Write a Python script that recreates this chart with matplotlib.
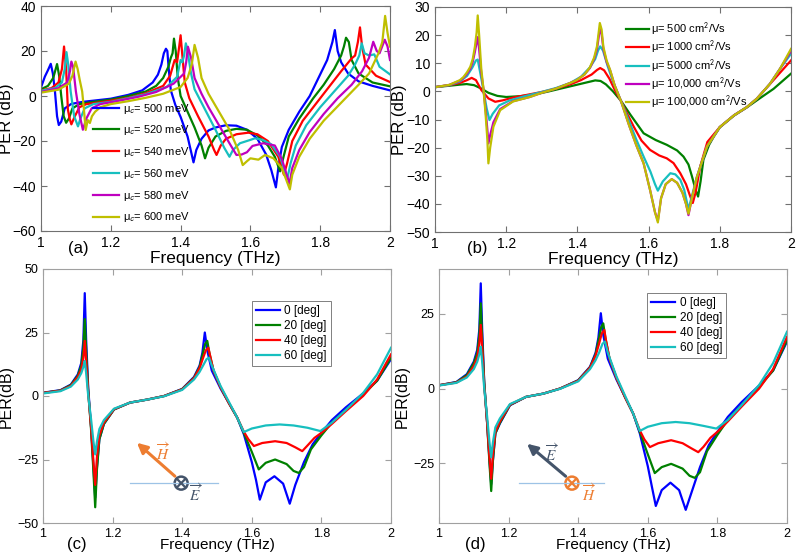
import matplotlib
matplotlib.use("Agg")
import matplotlib.pyplot as plt
from matplotlib.ticker import FormatStrFormatter
from matplotlib.patches import Circle
from matplotlib.transforms import IdentityTransform

plt.rcParams['font.family'] = ['Liberation Sans', 'DejaVu Sans']
plt.rcParams['mathtext.fontset'] = 'stix'

# ---------------- panel (a): chemical potential ----------------
a_f_500 = [1.00, 1.011, 1.02, 1.028, 1.034, 1.040, 1.046, 1.051, 1.058, 1.068, 1.087, 1.12, 1.20, 1.25, 1.29, 1.32, 1.335, 1.345,
           1.352, 1.358, 1.362, 1.366, 1.372, 1.385, 1.40, 1.42, 1.437, 1.445, 1.46, 1.48, 1.50, 1.53, 1.56, 1.59, 1.62,
           1.645, 1.66, 1.673, 1.68, 1.69, 1.71, 1.74, 1.77, 1.80, 1.82, 1.835, 1.842, 1.85, 1.86, 1.88, 1.91, 1.95, 2.00]
a_v_500 = [3.8, 8.6, 11.5, 14.3, 10, 2, -9, -12.9, -11.4, -5.5, -3.5, -2.6, -1.2, 0.5, 2.5, 6, 9.5, 14,
           19, 21, 20, 12, 2.5, -4, -9.3, -18, -29.5, -24, -19, -15.3, -14, -13, -13.2, -15, -19,
           -26, -33, -40.6, -32, -22.7, -15, -7, 0, 9.6, 16, 24, 29.3, 20, 15, 10, 6.5, 4.5, 2.5]

a_f_520 = [1.00, 1.02, 1.035, 1.046, 1.052, 1.058, 1.065, 1.072, 1.08, 1.09, 1.11, 1.15, 1.20, 1.25, 1.30, 1.33, 1.35, 1.365,
           1.372, 1.377, 1.381, 1.386, 1.392, 1.40, 1.42, 1.44, 1.46, 1.47, 1.48, 1.50, 1.53, 1.56, 1.59, 1.62, 1.65, 1.67,
           1.685, 1.695, 1.71, 1.74, 1.78, 1.81, 1.84, 1.86, 1.868, 1.874, 1.882, 1.89, 1.91, 1.95, 2.00]
a_v_520 = [3.0, 4.5, 8, 14.2, 9, 0, -9, -11.9, -10, -5.5, -3.6, -2.6, -1.6, 0, 2, 4.5, 8, 13,
           17, 19, 25.5, 20, 8, 0, -7, -14, -22, -27.7, -23, -18, -15.5, -14.6, -15, -17.5, -22, -27,
           -33.5, -27, -18, -10, -1, 5, 12, 18, 22, 25.9, 24, 16, 10, 6, 4.3]

a_f_540 = [1.00, 1.03, 1.05, 1.06, 1.066, 1.072, 1.077, 1.082, 1.087, 1.097, 1.11, 1.13, 1.18, 1.25, 1.30, 1.35, 1.37, 1.383,
           1.39, 1.396, 1.40, 1.405, 1.412, 1.425, 1.45, 1.48, 1.496, 1.503, 1.515, 1.53, 1.56, 1.594, 1.62, 1.65, 1.68,
           1.696, 1.705, 1.72, 1.75, 1.79, 1.83, 1.86, 1.89, 1.90, 1.908, 1.914, 1.92, 1.93, 1.96, 2.00]
a_v_540 = [2.5, 3.5, 6, 12, 22, 12, -6, -10, -12.6, -9, -5, -3.6, -2.6, -0.8, 1.2, 4.5, 9, 16,
           15, 22, 27, 18, 6, -1, -9, -18, -24, -26.2, -22, -19, -17, -16.3, -17, -20, -27,
           -35, -30, -20, -11, -3, 5, 11, 16.7, 18, 24, 30.5, 22, 14, 9, 6.2]

a_f_560 = [1.00, 1.04, 1.06, 1.068, 1.073, 1.078, 1.085, 1.095, 1.106, 1.113, 1.125, 1.15, 1.20, 1.25, 1.30, 1.36, 1.39, 1.40,
           1.405, 1.41, 1.415, 1.42, 1.43, 1.44, 1.47, 1.50, 1.525, 1.54, 1.55, 1.57, 1.60, 1.613, 1.635, 1.66, 1.685,
           1.706, 1.715, 1.73, 1.76, 1.80, 1.84, 1.88, 1.90, 1.912, 1.919, 1.927, 1.94, 1.955, 1.97, 2.00]
a_v_560 = [2.3, 3.5, 6, 12, 19.5, 14, 2, -9, -13.5, -10, -5.5, -3.6, -2.6, -1, 0.8, 4, 8.5, 16,
           15, 18, 23.4, 20, 10, 3, -6, -15, -23, -27, -24, -21, -19.5, -18.8, -19.5, -21.5, -27,
           -36.6, -30, -22, -13, -5, 2, 9, 14, 18, 23.4, 19, 18, 18.5, 13, 9.6]

a_f_580 = [1.00, 1.05, 1.075, 1.083, 1.087, 1.092, 1.10, 1.11, 1.12, 1.13, 1.145, 1.17, 1.22, 1.28, 1.33, 1.38, 1.41, 1.416,
           1.421, 1.43, 1.44, 1.46, 1.48, 1.51, 1.54, 1.56, 1.575, 1.59, 1.606, 1.637, 1.67, 1.69, 1.712, 1.72, 1.74,
           1.77, 1.81, 1.85, 1.89, 1.92, 1.94, 1.952, 1.962, 1.97, 1.985, 1.993, 2.00]
a_v_580 = [1.8, 3.5, 6, 11, 15.3, 13, 2, -8, -15, -10, -5.5, -3.6, -2.2, -0.3, 1.8, 5.5, 10, 15,
           21.9, 17, 8, 1, -5, -13, -21, -26.2, -26, -25, -22.2, -21, -22, -28, -39, -32, -24,
           -16, -8, -1, 5, 11, 17, 24.1, 20, 19, 25, 22, 16]

a_f_600 = [1.00, 1.05, 1.08, 1.09, 1.099, 1.105, 1.111, 1.118, 1.123, 1.128, 1.134, 1.14, 1.146, 1.155, 1.17, 1.20, 1.25, 1.30,
           1.35, 1.40, 1.42, 1.432, 1.44, 1.45, 1.46, 1.48, 1.51, 1.54, 1.565, 1.578, 1.59, 1.60, 1.623, 1.642, 1.666,
           1.69, 1.713, 1.72, 1.74, 1.77, 1.81, 1.86, 1.91, 1.94, 1.967, 1.978, 1.986, 1.993, 2.00]
a_v_600 = [1.5, 2.8, 5.5, 9, 15.3, 12, 7.1, 2, -6, -15.1, -10.7, -12, -9, -7, -5, -3.6, -2.3, -0.8,
           1, 4, 8, 14, 22.7, 17, 8, 1, -7, -15, -24, -30.7, -29, -27.7, -28.3, -26.2, -27.7,
           -32, -41.5, -35, -27, -19, -11, -3, 5, 10, 19, 24, 35.6, 28, 22]

# ---------------- panel (b): mobility ----------------
b_f_500 = [1.00, 1.04, 1.07, 1.089, 1.11, 1.13, 1.15, 1.175, 1.20, 1.24, 1.28, 1.32, 1.36, 1.40, 1.43, 1.45, 1.465, 1.48,
           1.50, 1.522, 1.55, 1.586, 1.62, 1.651, 1.68, 1.698, 1.712, 1.722, 1.732, 1.739, 1.746, 1.754, 1.77, 1.783,
           1.80, 1.84, 1.876, 1.904, 1.951, 2.00]
b_v_500 = [1.5, 2.0, 2.4, 2.6, 2.2, 1.0, -0.5, -1.6, -2.0, -1.7, -1.1, 0.0, 1.2, 2.4, 3.3, 3.9, 3.7, 2.5,
           0.0, -3.3, -8.5, -14.9, -17.3, -19.0, -21.0, -23.2, -26.0, -30.3, -35.0, -37.4, -32.0, -24.3, -19.0, -16.1,
           -12.8, -8.6, -5.7, -3.2, 0.9, 6.3]

b_f_1000 = [1.00, 1.04, 1.07, 1.09, 1.103, 1.115, 1.13, 1.15, 1.169, 1.19, 1.22, 1.26, 1.30, 1.34, 1.38, 1.41, 1.44, 1.455,
            1.464, 1.475, 1.49, 1.505, 1.522, 1.54, 1.558, 1.58, 1.604, 1.63, 1.651, 1.67, 1.689, 1.705, 1.716, 1.724,
            1.732, 1.745, 1.765, 1.80, 1.84, 1.876, 1.904, 1.95, 2.00]
b_v_1000 = [1.5, 2.2, 3.0, 4.0, 4.8, 4.0, 0.5, -2.5, -3.7, -3.2, -2.2, -1.2, -0.2, 1.0, 2.5, 4.0, 6.0, 7.6,
            8.3, 7.5, 4.5, 0.5, -3.3, -8.0, -12.5, -17.5, -20.8, -22.8, -23.8, -25.5, -29.1, -33.0, -37.0, -39.7,
            -36.0, -26.7, -18.0, -12.7, -8.5, -5.6, -2.6, 3.9, 11.0]

b_f_5000 = [1.00, 1.04, 1.07, 1.09, 1.105, 1.115, 1.12, 1.128, 1.136, 1.145, 1.153, 1.162, 1.18, 1.21, 1.25, 1.30, 1.34,
            1.38, 1.41, 1.435, 1.45, 1.458, 1.464, 1.472, 1.485, 1.50, 1.522, 1.545, 1.565, 1.586, 1.605, 1.618, 1.626,
            1.64, 1.661, 1.675, 1.689, 1.70, 1.712, 1.72, 1.736, 1.764, 1.80, 1.84, 1.876, 1.904, 1.941, 1.969, 2.00]
b_v_5000 = [1.5, 2.2, 3.5, 5.5, 8.5, 11.0, 11.3, 6.0, 0.5, -6.0, -10.2, -8.0, -5.0, -3.2, -1.8, -0.2, 1.2,
            3.0, 5.2, 8.5, 11.5, 14.5, 16.0, 14.5, 9.0, 3.5, -3.3, -10.5, -17.0, -23.2, -28.5, -33.0, -35.3,
            -32.0, -29.1, -29.5, -31.4, -35.0, -42.0, -38.0, -30.3, -19.6, -12.7, -8.5, -5.6, -2.6, 2.7, 8.0, 13.4]

b_f_hi = [1.00, 1.04, 1.07, 1.08, 1.09, 1.099, 1.106, 1.112, 1.117, 1.12, 1.124, 1.13, 1.136, 1.142, 1.147, 1.15, 1.155,
          1.164, 1.183, 1.219, 1.266, 1.30, 1.34, 1.38, 1.398, 1.42, 1.435, 1.447, 1.455, 1.463, 1.468, 1.473, 1.482,
          1.492, 1.505, 1.522, 1.545, 1.565, 1.586, 1.604, 1.618, 1.626, 1.635, 1.648, 1.665, 1.68, 1.695, 1.705,
          1.712, 1.72, 1.736, 1.764, 1.80, 1.84, 1.876, 1.904, 1.941, 1.969, 2.00]
b_v_10000 = [1.5, 2.3, 3.8, 4.8, 6.3, 8.0, 10.5, 14.0, 17.5, 19.3, 15.0, 6.5, 1.0, -6.5, -13.5, -18.5, -15.5,
             -11.0, -6.3, -3.5, -2.0, -0.5, 1.0, 3.0, 4.0, 6.0, 8.3, 11.5, 15.0, 22.1, 20.5, 15.0, 10.5,
             7.4, 2.0, -3.3, -12.0, -19.0, -25.6, -35.0, -43.0, -46.0, -38.0, -33.0, -31.2, -32.5, -36.0, -40.0,
             -44.0, -39.0, -30.3, -19.6, -12.7, -8.5, -5.6, -2.6, 2.7, 8.0, 14.4]
b_v_100000 = [1.5, 2.3, 4.0, 5.1, 6.8, 8.7, 11.5, 15.8, 21.0, 27.0, 20.0, 8.0, 1.0, -8.0, -17.0, -25.6, -20.0,
              -12.6, -6.7, -3.6, -2.0, -0.5, 1.0, 3.0, 4.0, 6.0, 8.5, 12.0, 16.0, 24.3, 22.0, 15.8, 11.0,
              7.6, 2.0, -3.3, -12.0, -19.0, -25.6, -35.0, -43.0, -46.6, -38.0, -33.0, -31.2, -32.5, -36.0, -40.0,
              -43.5, -39.0, -30.3, -19.6, -12.7, -8.5, -5.6, -2.6, 2.7, 8.0, 15.1]

# ---------------- panels (c), (d): incidence angle ----------------
cd_f_0 = [1.00, 1.05, 1.08, 1.10, 1.11, 1.116, 1.12, 1.124, 1.13, 1.138, 1.145, 1.15, 1.155, 1.162, 1.175, 1.204, 1.25,
          1.30, 1.348, 1.40, 1.434, 1.45, 1.458, 1.465, 1.472, 1.485, 1.51, 1.535, 1.558, 1.577, 1.60, 1.612, 1.623,
          1.64, 1.665, 1.69, 1.709, 1.725, 1.75, 1.775, 1.80, 1.83, 1.87, 1.92, 1.96, 2.00]
c_v_0 = [1.3, 2.3, 4.5, 8.5, 13, 22, 40.5, 22, 3, -12, -28, -40, -28, -17, -11, -5.3, -2.6,
         -1.4, 0, 2.8, 7.5, 12, 17, 25, 18, 10, 3, -3, -8.5, -15, -26, -33, -40.8,
         -34, -31.6, -34.5, -42.4, -35, -26, -19, -14.5, -9.5, -4.5, 1, 6, 14.5]
d_v_0 = [1.1, 2.2, 4.8, 9, 13, 20, 35.2, 20, 2, -11, -24, -32, -24, -15, -11.7, -5.6, -2.8,
         -1.7, 0, 2.8, 7.3, 12, 17, 25.2, 18, 10, 3, -3, -8.4, -15, -26, -33, -39.3,
         -34, -31.5, -34, -40.6, -35, -26.3, -19, -14.5, -9.5, -4.5, 1, 6, 15.7]

cd_f_20 = [1.00, 1.05, 1.08, 1.10, 1.11, 1.116, 1.12, 1.124, 1.13, 1.138, 1.145, 1.15, 1.155, 1.162, 1.175, 1.204, 1.25,
           1.30, 1.348, 1.40, 1.434, 1.45, 1.46, 1.466, 1.472, 1.478, 1.49, 1.51, 1.535, 1.558, 1.577, 1.60, 1.62,
           1.64, 1.667, 1.70, 1.72, 1.735, 1.75, 1.77, 1.80, 1.83, 1.87, 1.92, 1.96, 2.00]
c_v_20 = [1.2, 2.2, 4.3, 8, 12, 19, 30.3, 18, 2, -13, -30, -43.8, -29, -17, -11, -5.3, -2.6,
          -1.4, 0, 2.7, 7.2, 11.5, 17, 20.5, 21.7, 17, 10, 3.5, -3, -8.5, -14.5, -22, -28.9,
          -26.3, -25, -26.8, -29.5, -30.3, -28, -21, -15.5, -10.5, -5.5, 0.5, 6, 15.1]
d_v_20 = [1.1, 2.1, 4.5, 8.5, 12, 18, 28.5, 17, 2, -11, -25, -34.3, -24, -15, -11.5, -5.5, -2.8,
          -1.7, 0, 2.7, 7.1, 11.5, 17, 20.5, 21.8, 17, 10, 3.5, -3, -8.4, -14.5, -22, -28.3,
          -26.3, -25.2, -26.8, -29.2, -29.9, -28, -21, -15.5, -10.5, -5.5, 0.5, 6, 16.2]

cd_f_40 = [1.00, 1.05, 1.08, 1.10, 1.11, 1.116, 1.12, 1.124, 1.13, 1.138, 1.145, 1.15, 1.155, 1.162, 1.175, 1.204, 1.25,
           1.30, 1.348, 1.40, 1.434, 1.45, 1.46, 1.468, 1.475, 1.48, 1.49, 1.51, 1.535, 1.558, 1.577, 1.59, 1.606,
           1.63, 1.667, 1.70, 1.725, 1.745, 1.76, 1.78, 1.80, 1.83, 1.87, 1.92, 1.96, 2.00]
c_v_40 = [1.2, 2.1, 4, 7.5, 10.5, 15, 21.7, 14, 1, -12, -26, -35, -24, -15.5, -10.5, -5.2, -2.6,
          -1.4, 0, 2.6, 7, 11, 15, 18, 19, 16, 10, 3.5, -3, -8.5, -14, -17, -19.7,
          -18.5, -17.8, -18.5, -20.2, -21.7, -19.5, -16.5, -14.5, -11, -6, 0, 6.5, 16.4]
d_v_40 = [1.1, 2.0, 4, 7.5, 10.5, 15, 21.3, 14, 1, -11, -23, -30.2, -22, -14.5, -11, -5.4, -2.8,
          -1.7, 0, 2.6, 7, 11, 15, 18.5, 19.6, 16, 10, 3.5, -3, -8.4, -14, -17, -19.6,
          -18.3, -17.3, -18.3, -20, -21.3, -19.5, -16.5, -14.5, -11, -6, 0, 6.5, 17.3]

cd_f_60 = [1.00, 1.05, 1.08, 1.10, 1.11, 1.116, 1.12, 1.124, 1.13, 1.138, 1.145, 1.15, 1.155, 1.162, 1.175, 1.204, 1.25,
           1.30, 1.348, 1.40, 1.434, 1.45, 1.46, 1.47, 1.477, 1.485, 1.51, 1.535, 1.558, 1.577, 1.60, 1.64, 1.68,
           1.72, 1.76, 1.797, 1.83, 1.87, 1.92, 1.96, 2.00]
c_v_60 = [1.0, 1.9, 3.7, 6.5, 9, 11.5, 13.8, 9, 0, -9, -18, -23, -18, -13, -9.5, -5, -2.6,
          -1.4, -0.1, 2.4, 6.5, 9.5, 12, 14.5, 15.1, 12, 4, -2.5, -8.5, -14.2, -12.8, -11.6, -11.2,
          -11.6, -12.5, -13.8, -10.5, -5.5, 1.2, 8.5, 19]
d_v_60 = [1.0, 1.9, 3.7, 6.5, 9, 11.5, 14, 9, 0, -9, -18, -23, -18, -13, -10, -5.2, -2.8,
          -1.7, -0.1, 2.4, 6.5, 9.5, 12, 15, 15.7, 12, 4, -2.5, -8.4, -14.2, -12.8, -11.6, -11.2,
          -11.6, -12.5, -13.4, -10.5, -5.5, 1.2, 8.5, 19]

mu_labels = ['500', '520', '540', '560', '580', '600']
mob_labels = ['500', '1000', '5000', '10,000', '100,000']
ang_labels = ['0 [deg]', '20 [deg]', '40 [deg]', '60 [deg]']

blue, green, red = '#0000ff', '#008000', '#ff0000'
cyan, magenta, yellow = '#17bfbf', '#bf00bf', '#bfbf00'
orange, slate = '#ed7d31', '#44546a'

W, H = 796, 558
fig = plt.figure(figsize=(W / 100, H / 100), dpi=100)


def box(l, r, t, b):
    return [l / W, 1 - b / H, (r - l) / W, (b - t) / H]


def style(ax, edge):
    for s in ax.spines.values():
        s.set_color(edge)
        s.set_linewidth(0.8)
    ax.tick_params(direction='in', top=True, right=True, length=4, color=edge)
    ax.set_xlim(1, 2)
    ax.set_xticks([1, 1.2, 1.4, 1.6, 1.8, 2])
    ax.xaxis.set_major_formatter(FormatStrFormatter('%g'))


# (a)
ax = fig.add_axes(box(41, 390, 6, 231))
series = [(a_f_500, a_v_500), (a_f_520, a_v_520), (a_f_540, a_v_540),
          (a_f_560, a_v_560), (a_f_580, a_v_580), (a_f_600, a_v_600)]
cols = [blue, green, red, cyan, magenta, yellow]
for (f, v), c, lab in zip(series, cols, mu_labels):
    ax.plot(f, v, color=c, lw=1.6, label='μ$_{\\mathsf{c}}$= ' + lab + ' meV')
style(ax, '#707070')
ax.set_ylim(-60, 40)
ax.set_yticks(range(-60, 41, 20))
ax.tick_params(labelsize=10)
ax.set_xlabel('Frequency (THz)', fontsize=12.5, labelpad=1)
ax.set_ylabel('PER (dB)', fontsize=12)
ax.yaxis.set_label_coords(-0.077, 0.5)
ax.legend(loc='upper left', bbox_to_anchor=(0.132, 0.6), frameon=False, fontsize=8,
          handlelength=2.4, handletextpad=0.3, labelspacing=0.7, borderpad=0)

# (b)
ax = fig.add_axes(box(435, 791, 7, 232))
series = [(b_f_500, b_v_500), (b_f_1000, b_v_1000), (b_f_5000, b_v_5000),
          (b_f_hi, b_v_10000), (b_f_hi, b_v_100000)]
cols = [green, red, cyan, magenta, yellow]
for (f, v), c, lab in zip(series, cols, mob_labels):
    ax.plot(f, v, color=c, lw=1.6, label='μ= ' + lab + ' cm$^{\\mathsf{2}}$/Vs')
style(ax, '#707070')
ax.set_ylim(-50, 30)
ax.set_yticks(range(-50, 31, 10))
ax.tick_params(labelsize=10)
ax.set_xlabel('Frequency (THz)', fontsize=12.5, labelpad=1)
ax.set_ylabel('PER (dB)', fontsize=12)
ax.yaxis.set_label_coords(-0.08, 0.5)
ax.legend(loc='upper left', bbox_to_anchor=(0.522, 0.962), frameon=False, fontsize=8,
          handlelength=2.0, handletextpad=0.25, labelspacing=0.1, borderpad=0)

# (c) and (d)
cd_f = [cd_f_0, cd_f_20, cd_f_40, cd_f_60]
cols = [blue, green, red, cyan]
panels = [
    (box(43, 391, 269, 523), [c_v_0, c_v_20, c_v_40, c_v_60], (-50, 50), [-50, -25, 0, 25, 50],
     (0.6, 0.874), orange, slate, 'H', 'E', 0.397, (0.25, 0.503), (0.264, 0.323), (0.345, 0.28), (0.44, 0.118)),
    (box(439, 787, 269, 523), [d_v_0, d_v_20, d_v_40, d_v_60], (-45, 40), [-25, 0, 25],
     (0.598, 0.906), slate, orange, 'E', 'H', 0.382, (0.23, 0.474), (0.247, 0.319), (0.325, 0.276), (0.431, 0.118)),
]
for (pos, vals, ylim, yt, leg_xy, arrow_col, circ_col, up_lab, in_lab,
     cx, line_x, tip, up_xy, in_xy) in panels:
    ax = fig.add_axes(pos)
    for f, v, c, lab in zip(cd_f, vals, cols, ang_labels):
        ax.plot(f, v, color=c, lw=1.6, label=lab)
    style(ax, '#a0a0a0')
    ax.set_ylim(*ylim)
    ax.set_yticks(yt)
    ax.tick_params(labelsize=9)
    ax.set_xlabel('Frequency (THz)', fontsize=11, labelpad=-1)
    ax.set_ylabel('PER(dB)', fontsize=11.5)
    ax.yaxis.set_label_coords(-0.083, 0.5)
    lg = ax.legend(loc='upper left', bbox_to_anchor=leg_xy, fontsize=8.5, fancybox=False,
                   edgecolor='#808080', framealpha=1, handlelength=2.0, handletextpad=0.4,
                   labelspacing=0.25, borderpad=0.35, borderaxespad=0)
    lg.get_frame().set_linewidth(0.7)

    # field sketch: polarisation line, in-plane arrow, out-of-plane vector
    cy = 0.157
    ax.plot(line_x, [cy, cy], transform=ax.transAxes, color='#9dc3e6', lw=0.9)
    ax.annotate('', xy=tip, xytext=(cx - 0.012, cy + 0.02), xycoords='axes fraction',
                arrowprops=dict(arrowstyle='-|>,head_length=0.6,head_width=0.3', color=arrow_col, lw=2.2))
    fig.canvas.draw()
    disp = ax.transAxes.transform((cx, cy))
    r = 6.5
    ax.add_artist(Circle(disp, r, transform=IdentityTransform(), facecolor='white',
                         edgecolor=circ_col, lw=1.8))
    d = r * 0.68
    for sx in (-1, 1):
        ax.plot([disp[0] - d, disp[0] + d], [disp[1] - sx * d, disp[1] + sx * d],
                transform=IdentityTransform(), color=circ_col, lw=1.6)
    ax.text(*up_xy, r'$\overrightarrow{%s}$' % up_lab, transform=ax.transAxes, color=arrow_col,
            fontsize=11, ha='center', va='center')
    ax.text(*in_xy, r'$\overrightarrow{%s}$' % in_lab, transform=ax.transAxes, color=circ_col,
            fontsize=11, ha='center', va='center')

for x, y, s in [(78, 248, '(a)'), (477, 248, '(b)'), (77, 545, '(c)'), (475, 545, '(d)')]:
    fig.text(x / W, 1 - y / H, s, ha='center', va='center', fontsize=12)

fig.savefig('out.png', dpi=100)
